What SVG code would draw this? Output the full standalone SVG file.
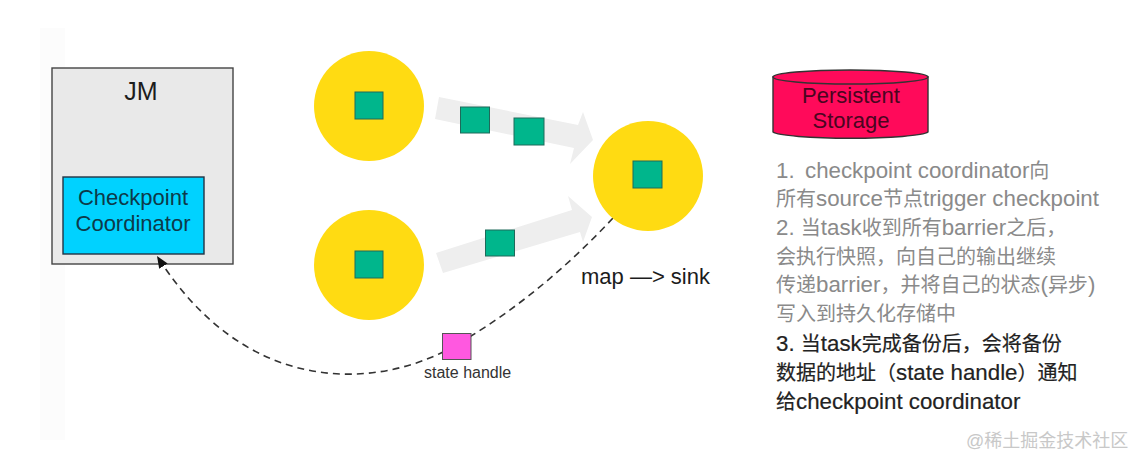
<svg xmlns="http://www.w3.org/2000/svg" width="1142" height="466" viewBox="0 0 1142 466">
<defs>
<style>
text{font-family:"Liberation Sans","Noto Sans CJK SC",sans-serif;fill:#1c1c1c}
.c{text-anchor:middle}
.ball{fill:#ffdb12}
.sq{fill:#00b68c;stroke:#1e6a5a;stroke-width:1}
.flow{fill:#eeeeee}
.g{font-size:20px;fill:#8a8a8a}
.k{font-size:20px;fill:#222;stroke:#222;stroke-width:.2}
.l{font-size:22.300px}
</style>
<marker id="ah" markerWidth="14" markerHeight="12" refX="12" refY="5" orient="auto" markerUnits="userSpaceOnUse"><path d="M0 0L12 5L0 10Z" fill="#111"/></marker>
</defs>
<rect width="1142" height="466" fill="#fff"/>
<rect x="40" y="28" width="25" height="412" fill="#fcfcfc"/>
<g id="flows">
<polygon class="flow" points="439,97 578,125 583,112 593,140 570,164 574,148 435,119"/>
<polygon class="flow" points="436,253 572,210 568,196 592,217 583,242 580,232 443,273"/>
</g>
<g id="jm"><rect x="52" y="68" width="181" height="196" fill="#e9e9e9" stroke="#444" stroke-width="1.4"/><text class="c" x="141" y="100" font-size="25">JM</text></g>
<g id="coordinator"><rect x="63" y="177" width="141" height="77" fill="#00d2ff" stroke="#234" stroke-width="1.4"/><text class="c" x="133" y="205" font-size="22" style="fill:#0d3a4a">Checkpoint</text><text class="c" x="133" y="231" font-size="22" style="fill:#0d3a4a">Coordinator</text></g>
<g id="connectors">
<path d="M613 218C560 275 500 322 443 352C370 388 245 395 157 256" fill="none" stroke="#333" stroke-width="1.6" stroke-dasharray="7 5" marker-end="url(#ah)"/>
</g>
<g id="source1"><circle class="ball" cx="369" cy="106" r="55"/><rect class="sq" x="355" y="92" width="28" height="27"/></g>
<g id="source2"><circle class="ball" cx="369" cy="265" r="55"/><rect class="sq" x="355" y="251" width="28" height="27"/></g>
<g id="sink"><circle class="ball" cx="648" cy="176" r="55"/><rect class="sq" x="633" y="161" width="29" height="27"/><text x="581" y="284" font-size="22">map —&gt; sink</text></g>
<g id="barrier1"><rect class="sq" x="460.500" y="107" width="29" height="26"/></g>
<g id="barrier2"><rect class="sq" x="514" y="118" width="30" height="27"/></g>
<g id="barrier3"><rect class="sq" x="485.500" y="230" width="29" height="26"/></g>
<g id="handle"><rect x="442.500" y="333.500" width="28.500" height="26" fill="#ff58e0" stroke="#555" stroke-width="1"/><text x="424" y="378" font-size="16" style="fill:#333">state handle</text></g>
<g id="storage"><path d="M773 77V132A78 7 0 0 0 928 132V77Z" fill="#ff0a5a" stroke="#333" stroke-width="1.4"/><ellipse cx="850.500" cy="77" rx="77.500" ry="7" fill="#ff0a5a" stroke="#333" stroke-width="1.4"/><text class="c" x="851" y="103" font-size="22" style="fill:#4a0520">Persistent</text><text class="c" x="851" y="128" font-size="22" style="fill:#4a0520">Storage</text></g>
<g id="notes">
<text class="g" x="776" y="178"><tspan class="l">1.</tspan><tspan class="l" x="805">checkpoint coordinator</tspan>向</text>
<text class="g" x="776" y="206">所有<tspan class="l">source</tspan>节点<tspan class="l">trigger checkpoint</tspan></text>
<text class="g" x="776" y="235"><tspan class="l">2. </tspan>当<tspan class="l">task</tspan>收到所有<tspan class="l">barrier</tspan>之后，</text>
<text class="g" x="776" y="264">会执行快照，向自己的输出继续</text>
<text class="g" x="776" y="292">传递<tspan class="l">barrier</tspan>，并将自己的状态<tspan class="l">(</tspan>异步<tspan class="l">)</tspan></text>
<text class="g" x="776" y="321">写入到持久化存储中</text>
<text class="k" x="776" y="351"><tspan class="l">3. </tspan>当<tspan class="l">task</tspan>完成备份后，会将备份</text>
<text class="k" x="776" y="380">数据的地址（<tspan class="l">state handle</tspan>）通知</text>
<text class="k" x="776" y="409">给<tspan class="l">checkpoint coordinator</tspan></text>
</g>
<text x="966" y="447" font-size="18" style="fill:#c8c8c8">@稀土掘金技术社区</text>
</svg>
